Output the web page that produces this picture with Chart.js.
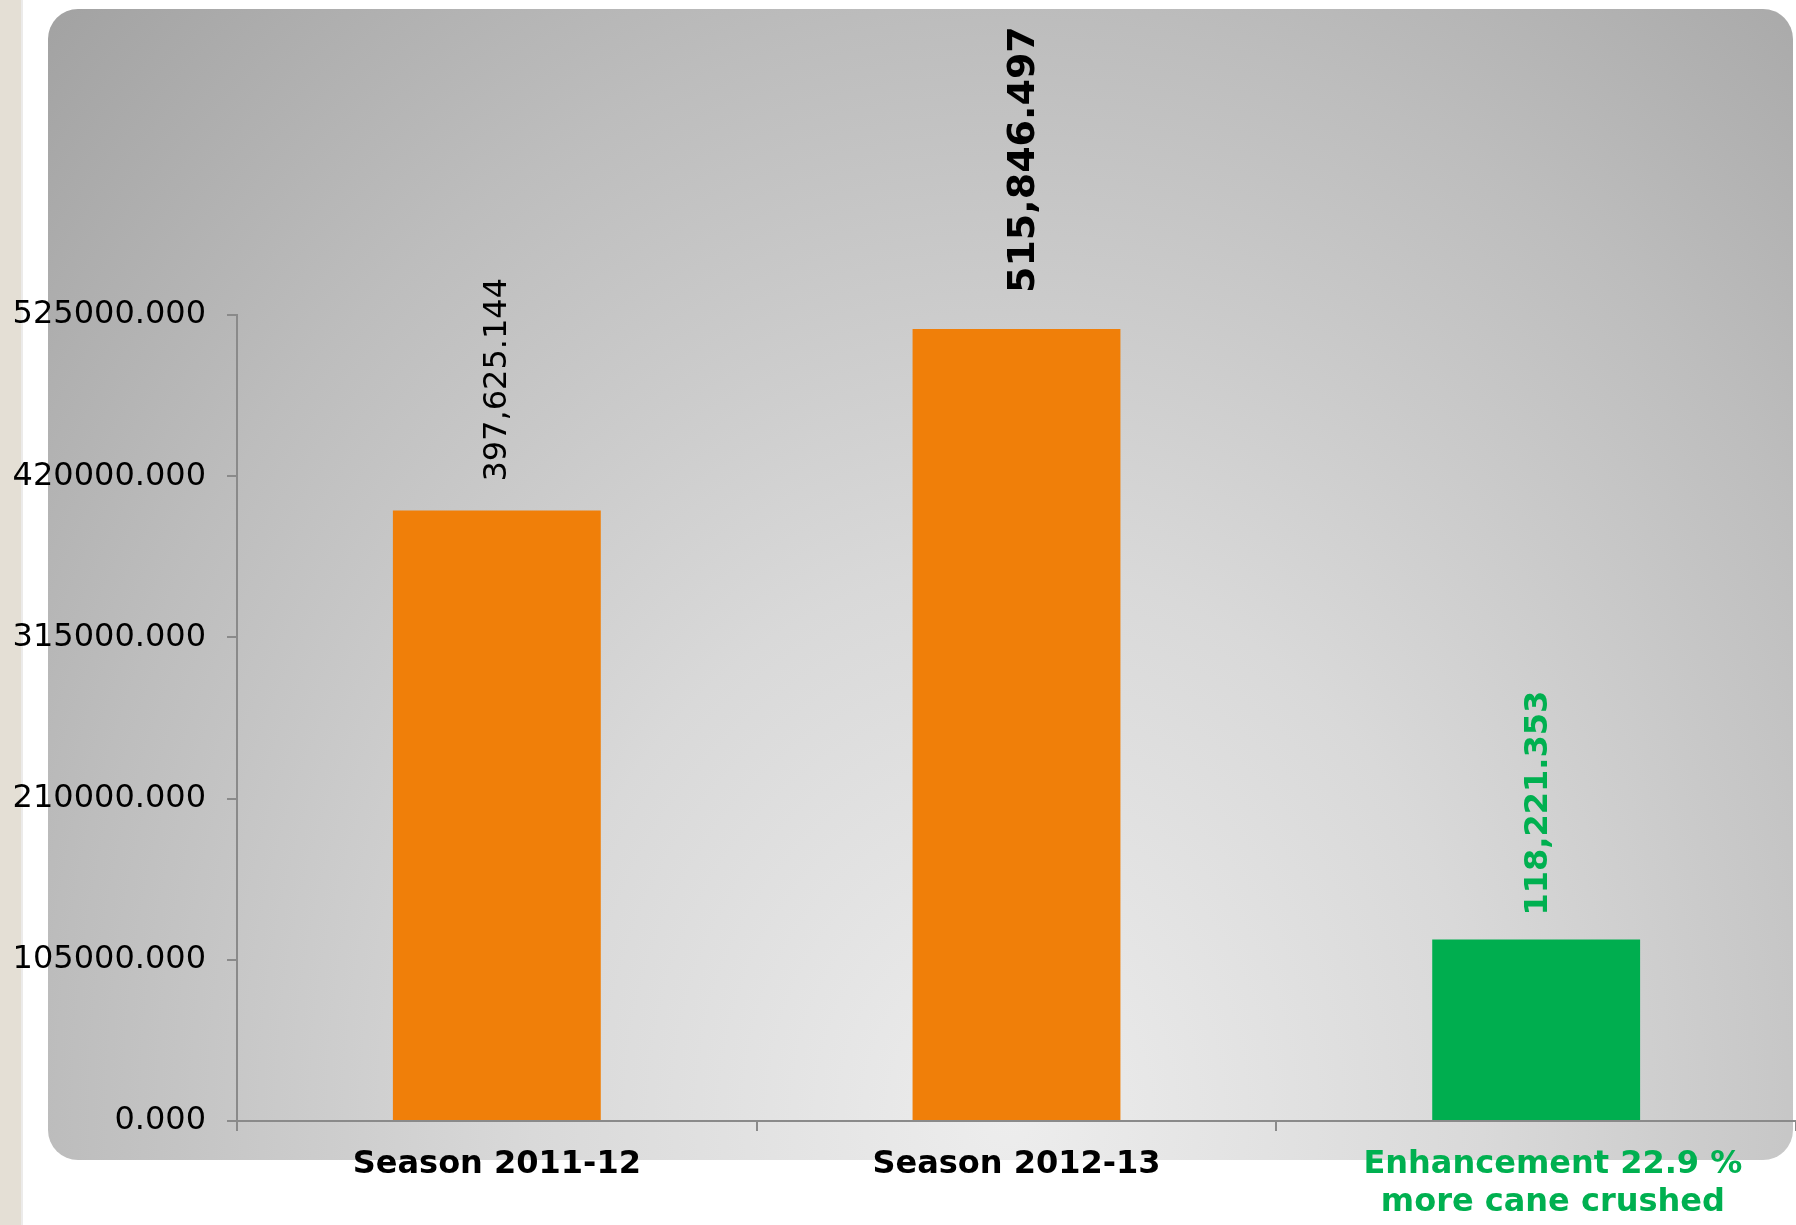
<!DOCTYPE html>
<html lang="en">
<head>
<meta charset="UTF-8">
<title>Cane crushed by season</title>
<script src="https://cdn.jsdelivr.net/npm/chart.js"></script>
<style>
    html, body {
        margin: 0;
        padding: 0;
        background: #fff;
        width: 1796px;
        height: 1225px;
        overflow: hidden;
    }

    .strip {
        position: absolute;
        left: 0;
        top: 0;
        width: 21px;
        height: 1225px;
        background: #e4dfd5;
        border-right: 2px solid #ecebea;
    }

    .panel {
        position: absolute;
        left: 48px;
        top: 9px;
        width: 1745px;
        height: 1151px;
        border-radius: 30px;
        background: radial-gradient(ellipse farthest-corner at 55% 96%, #ededed 0%, #d9d9d9 35%, #bdbdbd 70%, #a2a2a2 100%);
    }

    #chart {
        position: absolute;
        left: 0;
        top: 0;
    }
</style>
</head>
<body>
<div class="strip"></div>
<div class="panel"></div>
<canvas id="chart" width="1796" height="1225"></canvas>

<script>
    // data
    var categories = [
        'Season 2011-12',
        'Season 2012-13',
        ['\u00a0\u00a0\u00a0Enhancement 22.9 %', '\u00a0\u00a0\u00a0more cane crushed']
    ];
    var caneCrushed = [397625.144, 515846.497, 118221.353];
    var yTicks = [0, 105000, 210000, 315000, 420000, 525000];

    // look
    var barColors = ['#f07f09', '#f07f09', '#00ae4f'];
    var catColors = ['#000000', '#000000', '#00b050'];
    var valueFonts = ['normal 32px "DejaVu Sans"', 'bold 38px "DejaVu Sans"', 'bold 32px "DejaVu Sans"'];
    var valueColors = ['#000000', '#000000', '#00b050'];
    var valueGaps = [29, 36, 24];
    var valueShift = [1, 8, 3];

    Chart.defaults.font.family = '"DejaVu Sans", Verdana, sans-serif';

    var valueLabels = {
        id: 'valueLabels',
        afterDatasetsDraw: function (chart) {
            var ctx = chart.ctx;
            var meta = chart.getDatasetMeta(0);
            meta.data.forEach(function (bar, i) {
                var txt = caneCrushed[i].toLocaleString('en-US', { minimumFractionDigits: 3, maximumFractionDigits: 3 });
                ctx.save();
                ctx.translate(bar.x + valueShift[i], bar.y - valueGaps[i]);
                ctx.rotate(-Math.PI / 2);
                ctx.font = valueFonts[i];
                ctx.fillStyle = valueColors[i];
                ctx.textAlign = 'left';
                ctx.textBaseline = 'middle';
                ctx.fillText(txt, 0, 0);
                ctx.restore();
            });
        }
    };

    new Chart(document.getElementById('chart'), {
        type: 'bar',
        data: {
            labels: categories,
            datasets: [{
                data: caneCrushed,
                backgroundColor: barColors,
                borderWidth: 0,
                categoryPercentage: 1,
                barPercentage: 0.4
            }]
        },
        options: {
            responsive: false,
            animation: false,
            layout: { padding: { top: 315, left: 0, right: -3, bottom: 0 } },
            plugins: {
                legend: { display: false },
                tooltip: { enabled: false }
            },
            scales: {
                x: {
                    grid: { drawOnChartArea: false, drawTicks: true, tickLength: 10, color: '#8a8a8a', lineWidth: 2 },
                    border: { color: '#8a8a8a', width: 2 },
                    ticks: {
                        padding: 14,
                        maxRotation: 0,
                        autoSkip: false,
                        font: { size: 32, weight: 'bold', lineHeight: 1.2 },
                        color: function (c) { return catColors[c.index]; }
                    },
                    afterFit: function (s) { s.height = 104; }
                },
                y: {
                    min: 0,
                    max: 525000,
                    afterBuildTicks: function (s) {
                        s.ticks = yTicks.map(function (v) { return { value: v }; });
                    },
                    grid: { drawOnChartArea: false, drawTicks: true, tickLength: 10, color: '#8a8a8a', lineWidth: 2 },
                    border: { color: '#8a8a8a', width: 2 },
                    ticks: {
                        padding: 21,
                        color: '#000',
                        font: { size: 32 },
                        callback: function (v) { return Number(v).toFixed(3); }
                    },
                    afterFit: function (s) { s.width = 237; }
                }
            }
        },
        plugins: [valueLabels]
    });
</script>
</body>
</html>
